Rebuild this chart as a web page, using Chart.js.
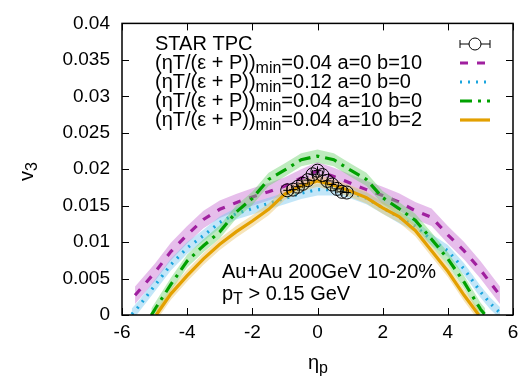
<!DOCTYPE html>
<html>
<head>
<meta charset="utf-8">
<script src="https://cdn.jsdelivr.net/npm/chart.js@4/dist/chart.umd.min.js"></script>
<style>
  html, body { margin: 0; padding: 0; background: #fff; }
  canvas { display: block; }
</style>
</head>
<body>
<canvas id="chart" width="528" height="381"></canvas>
<script>
// model curves (eta_p, v3)
const etaB10 = [-5.6, -5, -4.5, -4, -3.5, -3, -2.5, -2, -1.5, -1, -0.5, 0, 0.5, 1, 1.5, 2, 2.5, 3, 3.5, 4, 4.5, 5, 5.6];
const v3B10  = [0.0027, 0.0058, 0.0087, 0.0110, 0.0131, 0.0145, 0.0154, 0.0162, 0.0169, 0.0177, 0.0188, 0.0198, 0.0190, 0.0181, 0.0172, 0.0164, 0.0155, 0.0143, 0.0134, 0.0110, 0.0088, 0.0062, 0.0027];
const errB10 = 0.0012;

const etaEta12 = [-5.7, -5.5, -5, -4.5, -4, -3.5, -3, -2.5, -2, -1.5, -1, -0.5, 0, 0.5, 1, 1.5, 2, 2.5, 3, 3.5, 4, 4.5, 5, 5.3, 5.6];
const v3Eta12  = [0.0001, 0.0011, 0.0040, 0.0069, 0.0092, 0.0109, 0.0127, 0.0139, 0.0146, 0.0153, 0.0160, 0.0167, 0.0172, 0.0172, 0.0168, 0.0160, 0.0147, 0.0134, 0.0122, 0.0103, 0.0088, 0.0063, 0.0032, 0.0016, 0.0003];
const errEta12 = 0.0008;

const etaA10 = [-5.1, -4.5, -4, -3.5, -3, -2.5, -2, -1.5, -1, -0.5, 0, 0.5, 1, 1.5, 2, 2.5, 3, 3.5, 4, 4.5, 5, 5.15];
const v3A10  = [0.0000, 0.0042, 0.0074, 0.0095, 0.0114, 0.0141, 0.0160, 0.0186, 0.0199, 0.0213, 0.0218, 0.0213, 0.0199, 0.0186, 0.0161, 0.0146, 0.0130, 0.0104, 0.0077, 0.0045, 0.0008, 0.0000];
const errA10 = 0.0009;

const etaA10B2 = [-4.95, -4.5, -4, -3.5, -3, -2.5, -2, -1.5, -1, -0.5, 0, 0.5, 1, 1.5, 2, 2.5, 3, 3.5, 4, 4.5, 4.95];
const v3A10B2  = [0.0000, 0.0029, 0.0054, 0.0077, 0.0097, 0.0114, 0.0129, 0.0145, 0.0166, 0.0177, 0.0184, 0.0178, 0.0170, 0.0161, 0.0147, 0.0135, 0.0116, 0.0088, 0.0060, 0.0027, 0.0000];
const errA10B2 = 0.0008;

// STAR TPC data
const etaStar = [-0.93, -0.75, -0.6, -0.45, -0.3, -0.15, 0, 0.15, 0.3, 0.45, 0.6, 0.75, 0.9];
const v3Star  = [0.0171, 0.0172, 0.0176, 0.0180, 0.0185, 0.0193, 0.0198, 0.0192, 0.0184, 0.0179, 0.0173, 0.0169, 0.0168];
const errStarY = 0.0006;
const errStarX = 0.12;

const xTicks = [-6, -4, -2, 0, 2, 4, 6];

const FONT = '"Liberation Sans", Arial, Helvetica, sans-serif';

function pts(xs, ys, shift) {
  return xs.map((x, i) => ({ x: x, y: ys[i] + (shift || 0) }));
}

function modelSets(xs, ys, err, color, band, dash, order) {
  return [
    { data: pts(xs, ys, -err), borderWidth: 0, pointRadius: 0, fill: false, order: order + 1 },
    { data: pts(xs, ys, err), borderWidth: 0, pointRadius: 0, fill: '-1', backgroundColor: band, order: order + 1 },
    { data: pts(xs, ys), borderColor: color, borderWidth: 3.2, borderDash: dash, pointRadius: 0, fill: false, order: order }
  ];
}

const purple = '#a0209f', cyan = '#1aa5de', green = '#00a100', gold = '#e3a000';

const datasets = [].concat(
  [{
    data: pts(etaStar, v3Star), showLine: false, pointRadius: 6.5,
    pointBorderColor: '#000', pointBackgroundColor: 'rgba(0,0,0,0)', pointBorderWidth: 1, order: 0
  }],
  modelSets(etaA10B2, v3A10B2, errA10B2, gold, 'rgba(236,196,100,0.45)', [], 2),
  modelSets(etaA10, v3A10, errA10, green, 'rgba(110,210,110,0.45)', [12, 6, 3, 6], 4),
  modelSets(etaEta12, v3Eta12, errEta12, cyan, 'rgba(120,200,240,0.45)', [2, 6], 6),
  modelSets(etaB10, v3B10, errB10, purple, 'rgba(200,110,210,0.45)', [8, 9], 8)
);

function drawSample(ctx, x0, x1, y, kind) {
  ctx.save();
  if (kind.star) {
    ctx.strokeStyle = '#000';
    ctx.lineWidth = 1;
    ctx.beginPath();
    ctx.moveTo(x0, y); ctx.lineTo(x1, y);
    ctx.moveTo(x0, y - 4); ctx.lineTo(x0, y + 4);
    ctx.moveTo(x1, y - 4); ctx.lineTo(x1, y + 4);
    ctx.stroke();
    ctx.fillStyle = '#fff';
    ctx.beginPath(); ctx.arc((x0 + x1) / 2, y, 6, 0, Math.PI * 2); ctx.fill(); ctx.stroke();
  } else {
    ctx.strokeStyle = kind.color;
    ctx.lineWidth = 3.2;
    ctx.setLineDash(kind.dash);
    ctx.beginPath(); ctx.moveTo(x0, y); ctx.lineTo(x1, y); ctx.stroke();
  }
  ctx.restore();
}

function subText(ctx, x, y, parts) {
  // parts: [text, isSub]
  let cx = x;
  parts.forEach(p => {
    ctx.font = (p[1] ? '16px ' : '20px ') + FONT;
    ctx.fillText(p[0], cx, y + (p[1] ? 6 : 0));
    cx += ctx.measureText(p[0]).width;
  });
  return cx;
}

const decor = {
  id: 'decor',
  afterDatasetsDraw(chart) {
    const ctx = chart.ctx;
    const xs = chart.scales.x, ys = chart.scales.y;
    const a = chart.chartArea;
    ctx.save();
    // STAR error bars
    ctx.strokeStyle = '#000';
    ctx.lineWidth = 1;
    ctx.beginPath();
    etaStar.forEach((e, i) => {
      const px = xs.getPixelForValue(e), py = ys.getPixelForValue(v3Star[i]);
      const x0 = xs.getPixelForValue(e - errStarX), x1 = xs.getPixelForValue(e + errStarX);
      const y0 = ys.getPixelForValue(v3Star[i] - errStarY), y1 = ys.getPixelForValue(v3Star[i] + errStarY);
      ctx.moveTo(x0, py); ctx.lineTo(x1, py);
      ctx.moveTo(px, y0); ctx.lineTo(px, y1);
    });
    ctx.stroke();

    // frame and inward ticks
    ctx.lineWidth = 1.5;
    ctx.strokeRect(a.left, a.top, a.right - a.left, a.bottom - a.top);
    ctx.lineWidth = 1;
    ctx.beginPath();
    xTicks.forEach(t => {
      const px = Math.round(xs.getPixelForValue(t)) + 0.5;
      ctx.moveTo(px, a.bottom); ctx.lineTo(px, a.bottom - 7);
      ctx.moveTo(px, a.top); ctx.lineTo(px, a.top + 7);
    });
    ys.ticks.forEach(t => {
      const py = Math.round(ys.getPixelForValue(t.value)) + 0.5;
      ctx.moveTo(a.left, py); ctx.lineTo(a.left + 7, py);
      ctx.moveTo(a.right, py); ctx.lineTo(a.right - 7, py);
    });
    ctx.stroke();

    // legend
    ctx.fillStyle = '#000';
    ctx.textBaseline = 'middle';
    ctx.textAlign = 'left';
    const rows = [
      { star: true },
      { v: '0.04 a=0 b=10', color: purple, dash: [8, 9] },
      { v: '0.12 a=0 b=0', color: cyan, dash: [2, 6] },
      { v: '0.04 a=10 b=0', color: green, dash: [12, 6, 3, 6] },
      { v: '0.04 a=10 b=2', color: gold, dash: [] }
    ];
    rows.forEach((r, i) => {
      const y = 44 + i * 19;
      if (r.star) {
        ctx.font = '20px ' + FONT;
        ctx.fillText('STAR TPC', 155, y);
      } else {
        subText(ctx, 155, y, [['(\u03b7T/(\u03b5 + P))', false], ['min', true], ['=' + r.v, false]]);
      }
      drawSample(ctx, 460, 490, y, r);
    });

    // annotation
    ctx.font = '20px ' + FONT;
    ctx.fillText('Au+Au 200GeV 10-20%', 222, 272);
    subText(ctx, 222, 294, [['p', false], ['T', true], [' > 0.15 GeV', false]]);

    // axis titles
    ctx.font = '20px ' + FONT;
    const xw = ctx.measureText('\u03b7').width;
    subText(ctx, 318 - (xw + 9) / 2, 363, [['\u03b7', false], ['p', true]]);
    ctx.translate(27, 172);
    ctx.rotate(-Math.PI / 2);
    subText(ctx, -9, 0, [['v', false], ['3', true]]);
    ctx.restore();
  }
};

new Chart(document.getElementById('chart'), {
  type: 'line',
  data: { datasets: datasets },
  options: {
    responsive: false,
    animation: false,
    layout: { padding: { top: 15, right: 15, left: 0, bottom: 0 } },
    plugins: { legend: { display: false }, tooltip: { enabled: false } },
    elements: { line: { tension: 0 } },
    scales: {
      x: {
        type: 'linear', min: -6, max: 6,
        grid: { display: false, drawTicks: false },
        border: { display: false },
        ticks: { stepSize: 2, color: '#000', font: { family: FONT, size: 19 }, padding: 6, maxRotation: 0 },
        afterFit(s) { s.height = 66; }
      },
      y: {
        min: 0, max: 0.04,
        grid: { display: false, drawTicks: false },
        border: { display: false },
        ticks: {
          stepSize: 0.005, color: '#000', font: { family: FONT, size: 19 }, padding: 12,
          callback: v => String(Number(v.toFixed(3)))
        },
        afterFit(s) { s.width = 122; }
      }
    }
  },
  plugins: [decor]
});
</script>
</body>
</html>
